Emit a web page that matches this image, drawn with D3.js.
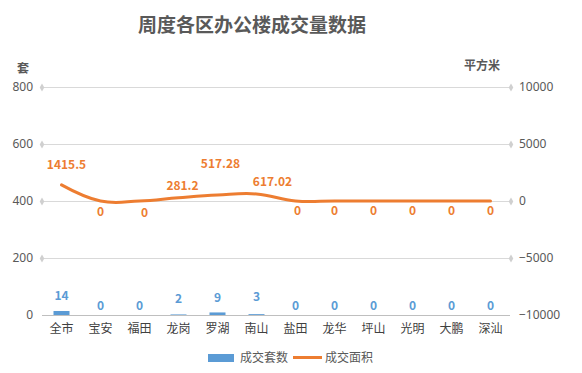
<!DOCTYPE html>
<html><head><meta charset="utf-8">
<script src="https://cdn.jsdelivr.net/npm/d3@7/dist/d3.min.js"></script>
<style>
body{margin:0;background:#fff;}
text{font-family:"Noto Sans CJK SC","Noto Sans",sans-serif;}
</style></head>
<body><svg id="c" width="582" height="373"></svg>
<script>
const categories = ["全市","宝安","福田","龙岗","罗湖","南山","盐田","龙华","坪山","光明","大鹏","深汕"];
const units = [14,0,0,2,9,3,0,0,0,0,0,0];
const area = [1415.5,0,0,281.2,517.28,617.02,0,0,0,0,0,0];
const leftTicks = [0,200,400,600,800];
const rightTicks = [-10000,-5000,0,5000,10000];
// label nudges (pixels) as seen in reference
const areaLabelDx = [5,0,5,4,3,16,2,0,0,0,0,0];
const areaLabelDy = [-20,11,12,-12,-31,-12,10,10,10,10,10,10];
const unitLabelDy = [-15,-9,-9,-16,-15,-17,-9,-9,-9,-9,-9,-9];

const svg = d3.select("#c");
const L=42, R=510, T=87, B=315;
const x = d3.scaleBand().domain(categories).range([L,R]);
const yL = d3.scaleLinear().domain([0,800]).range([B,T]);
const yR = d3.scaleLinear().domain([-10000,10000]).range([B,T]);
const blue="#5b9bd5", orange="#ed7d31", txt="#595959";

svg.append("text").attr("x",252).attr("y",32).attr("text-anchor","middle")
  .attr("font-size",19).attr("font-weight","bold").attr("fill",txt).text("周度各区办公楼成交量数据");
svg.append("text").attr("x",23).attr("y",73).attr("text-anchor","middle")
  .attr("font-size",12).attr("font-weight","bold").attr("fill",txt).text("套");
svg.append("text").attr("x",482).attr("y",70).attr("text-anchor","middle")
  .attr("font-size",12).attr("font-weight","bold").attr("fill",txt).text("平方米");

// grid
svg.append("g").selectAll("line").data(leftTicks).join("line")
  .attr("x1",L).attr("x2",R).attr("y1",d=>yL(d)+0.5).attr("y2",d=>yL(d)+0.5)
  .attr("stroke",d=>d===0?"#bfbfbf":"#d9d9d9").attr("stroke-width",1);
const dia = d3.symbol().type(d3.symbolDiamond).size(18);
svg.append("g").selectAll("path").data(leftTicks.filter(d=>d!==0)).join("path")
  .attr("d",dia).attr("transform",d=>`translate(${L},${yL(d)+0.5})`).attr("fill","#d0d0d0");
svg.append("g").selectAll("path").data(rightTicks.filter(d=>d!==-10000)).join("path")
  .attr("d",dia).attr("transform",d=>`translate(${R+1},${yR(d)+0.5})`).attr("fill","#d0d0d0");

// axes labels
const axL = d3.axisLeft(yL).tickValues(leftTicks).tickSize(0).tickPadding(9);
const gL = svg.append("g").attr("transform",`translate(${L},0)`).call(axL);
gL.select(".domain").remove();
gL.selectAll("text").attr("font-size",12).attr("fill",txt).style("font-family","'Noto Sans','DejaVu Sans',sans-serif");
const axR = d3.axisRight(yR).tickValues(rightTicks).tickFormat(d3.format("d")).tickSize(0).tickPadding(9);
const gR = svg.append("g").attr("transform",`translate(${R},0)`).call(axR);
gR.select(".domain").remove();
gR.selectAll("text").attr("font-size",12).attr("fill",txt).style("font-family","'Noto Sans','DejaVu Sans',sans-serif");
const axB = d3.axisBottom(x).tickSize(0).tickPadding(9);
const gB = svg.append("g").attr("transform",`translate(0,${B})`).call(axB);
gB.select(".domain").remove();
gB.selectAll("text").attr("font-size",12).attr("fill","#404040");

// bars
const bw=16;
svg.append("g").selectAll("rect").data(units).join("rect")
  .attr("x",(d,i)=>x(categories[i])+x.bandwidth()/2-bw/2).attr("width",bw)
  .attr("y",d=>yL(d)).attr("height",d=>B-yL(d)).attr("fill",blue);
svg.append("g").selectAll("text").data(units).join("text")
  .attr("x",(d,i)=>x(categories[i])+x.bandwidth()/2)
  .attr("y",(d,i)=>yL(d)+unitLabelDy[i]).attr("dy","0.35em").attr("text-anchor","middle")
  .attr("font-size",12).attr("font-weight","bold").attr("fill",blue).text(d=>d);

// line
const line = d3.line().x((d,i)=>x(categories[i])+x.bandwidth()/2).y(d=>yR(d))
  .curve(d3.curveCardinal.tension(-0.2));
svg.append("path").datum(area).attr("d",line).attr("fill","none")
  .attr("stroke",orange).attr("stroke-width",3).attr("stroke-linecap","round");
svg.append("g").selectAll("text").data(area).join("text")
  .attr("x",(d,i)=>x(categories[i])+x.bandwidth()/2+areaLabelDx[i])
  .attr("y",(d,i)=>yR(d)+areaLabelDy[i]).attr("dy","0.35em").attr("text-anchor","middle")
  .attr("font-size",12).attr("font-weight","bold").attr("fill",orange).text(d=>d);

// legend
const lg = svg.append("g");
lg.append("rect").attr("x",208).attr("y",354).attr("width",26).attr("height",8).attr("fill",blue);
lg.append("text").attr("x",240).attr("y",358).attr("dy","0.35em").attr("font-size",12).attr("fill",txt).text("成交套数");
lg.append("line").attr("x1",293).attr("x2",322).attr("y1",357.5).attr("y2",357.5).attr("stroke",orange).attr("stroke-width",3);
lg.append("text").attr("x",325).attr("y",358).attr("dy","0.35em").attr("font-size",12).attr("fill",txt).text("成交面积");
</script></body></html>
